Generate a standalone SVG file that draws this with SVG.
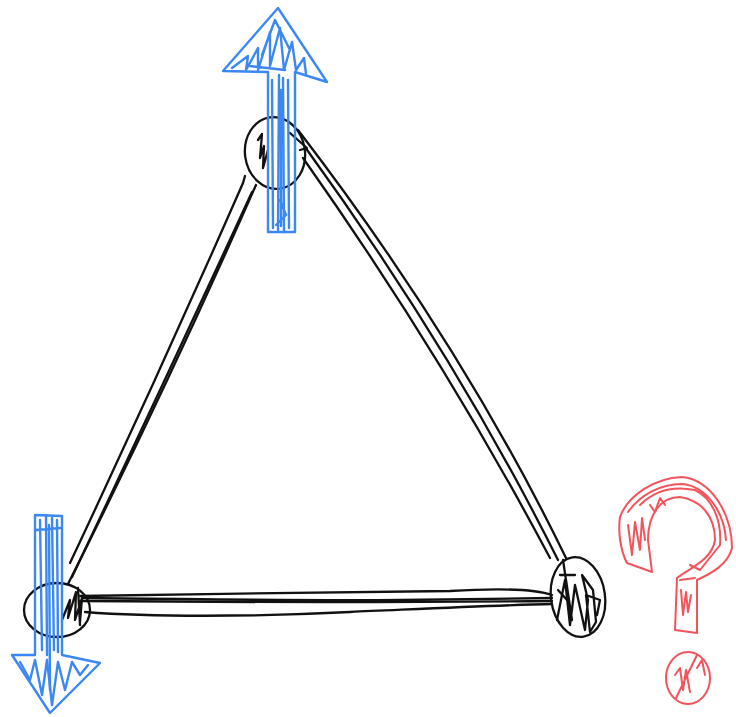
<svg xmlns="http://www.w3.org/2000/svg" width="736" height="717" viewBox="0 0 736 717">
<style>
.ink{fill:none;stroke:#111;stroke-width:2.3;stroke-linecap:round;stroke-linejoin:round}
.blue{fill:none;stroke:#3b88f5;stroke-width:2.4;stroke-linecap:round;stroke-linejoin:round}
.red{fill:none;stroke:#f2545b;stroke-width:2;stroke-linecap:round;stroke-linejoin:round}
</style>
<rect width="736" height="717" fill="#fff"/>
<g id="connectors">
  <g id="edge-left">
    <path class="ink" d="M245,176 L243,183 Q160,372 70,563"/>
    <path class="ink" d="M256,185 Q168,385 68,584"/>
    <path class="ink" d="M252,192 Q163,385 72,577"/>
  </g>
  <g id="edge-right">
    <path class="ink" d="M298,130 Q462,344 566,558"/>
    <path class="ink" d="M305,147 Q455,354 558,560"/>
    <path class="ink" d="M303,158 Q444,358 550,558"/>
  </g>
  <g id="edge-bottom">
    <path class="ink" d="M80,596 C200,594 350,592 450,591 C500,588 535,589 552,595"/>
    <path class="ink" d="M80,601 C200,602 350,603 552,601"/>
    <path class="ink" d="M82,598 C200,599 300,601 400,600 C470,599 520,598 552,598"/>
    <path class="ink" d="M85,612 C150,617 250,617 350,612 C420,609 500,605 552,604"/>
  </g>
</g>
<g id="node-top">
  <ellipse class="ink" cx="275" cy="153" rx="30" ry="36" transform="rotate(-8 275 153)"/>
  <path class="ink" d="M258,140 L262,134 L260,158 L264,146 L263,168 L268,150"/>
  <path class="ink" d="M290,133 L307,148 L300,150"/>
</g>
<g id="node-bottom-left">
  <ellipse class="ink" cx="57" cy="610" rx="33" ry="27"/>
  <path class="ink" d="M62,620 L70,600 L68,618 L76,592 L75,620 L82,598 L80,622 M78,588 L80,625"/>
</g>
<g id="node-bottom-right">
  <ellipse class="ink" cx="578" cy="597" rx="27" ry="40" transform="rotate(-8 578 597)"/>
  <path class="ink" d="M563,560 L572,620 M557,620 L565,580 L570,625 L575,585 L585,630 L588,600 L582,575 L593,590 L596,622 L590,632 L586,595 L600,600 L597,615"/>
  <path class="ink" d="M560,575 L575,575 M558,590 L567,600"/>
</g>
<g id="arrow-up">
  <path class="blue" d="M268,232 L268,72 L223,71 L278,8 L327,82 L295,72 L295,232 Z"/>
  <path class="blue" d="M273,228 L272,80 M278,230 L279,75 M284,232 L283,78 M289,228 L288,80 M281,226 L281,90 M276,225 L286,215 L280,200"/>
  <path class="blue" d="M232,68 L248,56 L246,70 L258,48 L258,70 L270,32 L270,66 L280,28 L284,70 L292,42 L296,70 L304,58 L306,74 M250,66 L285,70 M262,55 L275,20 L290,50"/>
</g>
<g id="arrow-down">
  <path class="blue" d="M35,515 L62,516 L62,655 L100,663 L50,713 L12,655 L35,655 Z"/>
  <path class="blue" d="M40,520 L42,650 M46,515 L47,655 M52,518 L54,650 M57,520 L58,652 M49,525 L50,690 M36,530 L60,528"/>
  <path class="blue" d="M20,662 L30,680 L35,660 L42,695 L47,660 L52,705 L58,662 L65,690 L72,662 L80,675 L88,665"/>
</g>
<g id="question-mark">
  <path class="red" d="M620,517 C628,495 655,478 682,477 C712,480 732,515 732,548 C728,565 710,574 697,580 L697,633 L675,630 L677,578 C690,568 712,560 715,540 C715,515 700,500 680,497 C660,497 648,515 648,540 L652,572 L627,563 C620,550 618,530 620,517 Z"/>
  <path class="red" d="M628,512 C640,495 660,484 682,484 C705,486 724,510 726,540 M640,505 C655,490 675,486 695,490 C712,498 722,520 720,545 L700,570 L690,565"/>
  <path class="red" d="M628,525 L632,555 L635,522 L640,550 L642,518 L645,540 M650,505 L655,512 L660,498 L665,505"/>
  <path class="red" d="M681,590 L683,615 L686,592 L688,612 L691,595 M680,580 L695,578"/>
  <ellipse class="red" cx="688" cy="678" rx="22" ry="26"/>
  <path class="red" d="M676,698 L697,655 M675,675 L680,668 L683,690 L686,670 L690,692 M697,668 L702,660 L705,675"/>
</g>
</svg>
